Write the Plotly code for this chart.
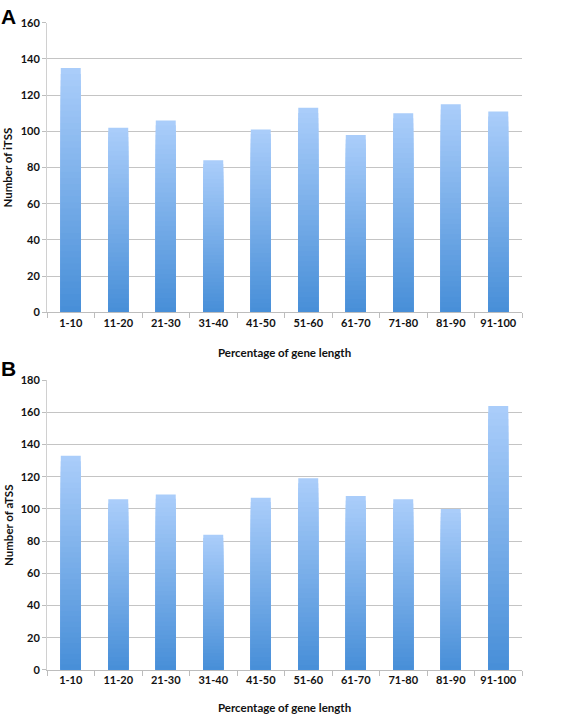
import plotly.graph_objects as go

categories = ["1-10", "11-20", "21-30", "31-40", "41-50", "51-60", "61-70", "71-80", "81-90", "91-100"]
itss_values = [135, 102, 106, 84, 101, 113, 98, 110, 115, 111]
atss_values = [133, 106, 109, 84, 107, 119, 108, 106, 100, 164]
x_title = "Percentage of gene length"
y_title_a = "Number of iTSS"
y_title_b = "Number of aTSS"

W, H = 567, 723
light = (170, 205, 250)
dark = (72, 143, 216)
N = 40

fig = go.Figure()

def add_gradient_bars(values, xa, ya):
    for k in range(N):
        f = k / (N - 1)
        c = tuple(round(light[i] + (dark[i] - light[i]) * f) for i in range(3))
        fig.add_trace(go.Bar(
            x=categories, y=[v * (N - k) / N for v in values],
            xaxis=xa, yaxis=ya, width=0.42,
            marker=dict(color="rgb(%d,%d,%d)" % c, line=dict(width=0)),
            hoverinfo="skip", showlegend=False))

add_gradient_bars(itss_values, "x", "y")
add_gradient_bars(atss_values, "x2", "y2")

xd = [47 / W, 522 / W]
da = [1 - 311 / H, 1 - 16 / H]
db = [1 - 675 / H, 1 - 380 / H]

tickfont = dict(family="Lato, Open Sans, sans-serif", size=11, color="#111", weight="bold")
xcommon = dict(domain=xd, type="category", showgrid=False, showline=True, linecolor="#bdbdbd",
               linewidth=1, ticks="outside", tickson="boundaries", ticklen=5, tickcolor="#bdbdbd",
               tickfont=tickfont, fixedrange=True)
ycommon = dict(showgrid=True, gridcolor="#c4c4c4", gridwidth=1, showline=True, linecolor="#d0d0d0",
               ticks="outside", ticklen=4, tickcolor="#bdbdbd", tickfont=tickfont,
               zeroline=False, dtick=20, fixedrange=True)

fig.update_layout(
    width=W, height=H, margin=dict(l=0, r=0, t=0, b=0),
    plot_bgcolor="white", paper_bgcolor="white", barmode="overlay",
    xaxis=dict(**xcommon, anchor="y"),
    yaxis=dict(**ycommon, domain=da, range=[0, 160], anchor="x"),
    xaxis2=dict(**xcommon, anchor="y2"),
    yaxis2=dict(**ycommon, domain=db, range=[0, 180], anchor="x2"),
)

titlefont = dict(family="Lato, Open Sans, sans-serif", size=11.5, color="#111", weight="bold")
ann = []
for yc_px, txt in [(352, x_title), (713, x_title)]:
    ann.append(dict(x=(xd[0] + xd[1]) / 2, y=1 - yc_px / H, xref="paper", yref="paper",
                    text=txt, showarrow=False, font=titlefont, xanchor="center", yanchor="middle"))
for dom, txt in [(da, y_title_a), (db, y_title_b)]:
    ann.append(dict(x=8 / W, y=(dom[0] + dom[1]) / 2, xref="paper", yref="paper", textangle=-90,
                    text=txt, showarrow=False, font=titlefont, xanchor="center", yanchor="middle"))
for yc_px, txt in [(10, "A"), (368, "B")]:
    ann.append(dict(x=8 / W, y=1 - yc_px / H, xref="paper", yref="paper", text=txt, showarrow=False,
                    font=dict(family="Liberation Sans, Arial, sans-serif", size=21, color="#000", weight="bold"),
                    xanchor="center", yanchor="middle"))
fig.update_layout(annotations=ann)

fig.write_html("out.html", config={"displayModeBar": False},
               post_script="document.body.style.margin='0px';document.body.style.overflow='hidden';")
